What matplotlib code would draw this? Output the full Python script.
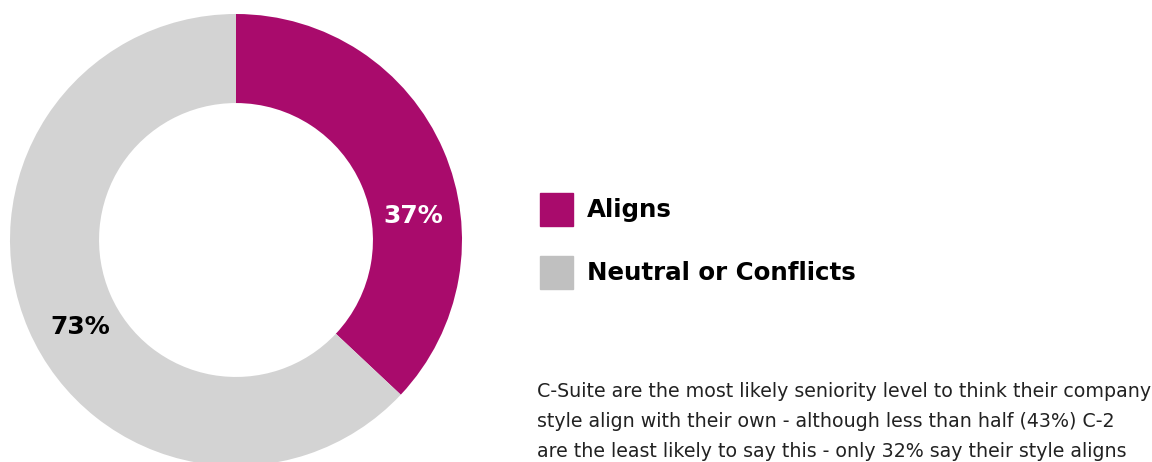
import matplotlib.pyplot as plt

# data
categories = ["Aligns", "Neutral or Conflicts"]
shares = [37, 63]
share_labels = ["37%", "73%"]
colors = ["#A90B6C", "#D3D3D3"]
legend_colors = ["#A90B6C", "#C0C0C0"]
note_lines = [
    "C-Suite are the most likely seniority level to think their company",
    "style align with their own - although less than half (43%) C-2",
    "are the least likely to say this - only 32% say their style aligns",
]

plt.rcParams["font.family"] = ["DejaVu Sans"]

W, H = 1152, 462
fig = plt.figure(figsize=(W / 100, H / 100), dpi=100)
renderer = fig.canvas.get_renderer()


def fit_width(t, target_px):
    # scale font so the text spans about target_px pixels
    w = t.get_window_extent(renderer=renderer).width
    t.set_fontsize(t.get_fontsize() * target_px / w)
    return t.get_fontsize()


# donut axes (centre ~ (236, 240) px, radius 226 px)
cx, cy, r = 236, 240, 226
ax = fig.add_axes([(cx - r) / W, (H - cy - r) / H, 2 * r / W, 2 * r / H])
ax.pie(
    shares,
    colors=colors,
    startangle=90,
    counterclock=False,
    radius=1,
    wedgeprops=dict(width=0.394, edgecolor="none"),
)
ax.set_xlim(-1, 1)
ax.set_ylim(-1, 1)
ax.set_aspect("equal")
ax.axis("off")

# percentage labels
t = ax.text(0.783, 0.106, share_labels[0], color="white", fontsize=17,
            fontweight="bold", ha="center", va="center")
fit_width(t, 60)
t = ax.text(-0.69, -0.385, share_labels[1], color="black", fontsize=17,
            fontweight="bold", ha="center", va="center")
fit_width(t, 60)

# legend
legend_texts = []
for i, (name, c) in enumerate(zip(categories, legend_colors)):
    top = 193 + i * 63
    fig.patches.append(plt.Rectangle((540 / W, (H - top - 33) / H), 33 / W, 33 / H,
                                     transform=fig.transFigure, color=c))
    legend_texts.append(fig.text(587 / W, (H - top - 17) / H, name, fontsize=17,
                                 fontweight="bold", color="black",
                                 va="center", ha="left"))
size = fit_width(legend_texts[1], 270)
legend_texts[0].set_fontsize(size)

# note text
note_texts = []
for i, line in enumerate(note_lines):
    note_texts.append(fig.text(537 / W, (H - 397 - i * 30) / H, line, fontsize=13,
                               color="#222222", va="baseline", ha="left"))
size = fit_width(note_texts[0], 613)
for t in note_texts[1:]:
    t.set_fontsize(size)

fig.savefig("out.png", dpi=100)
